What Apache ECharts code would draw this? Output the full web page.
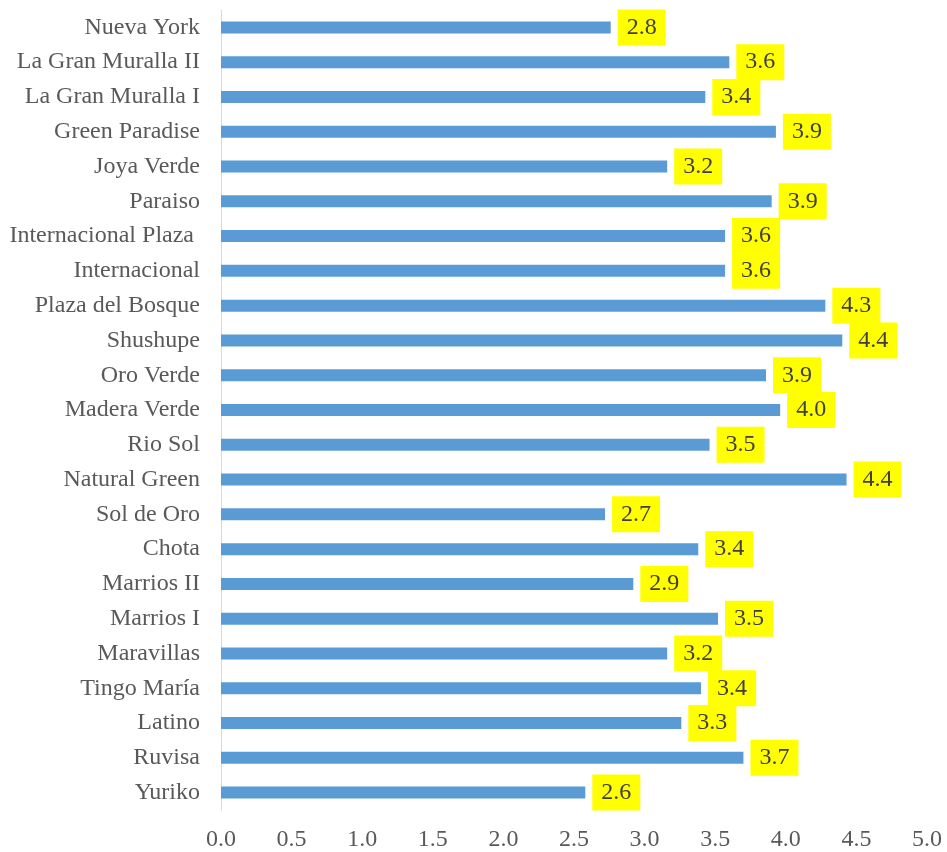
<!DOCTYPE html>
<html>
<head>
<meta charset="utf-8">
<script src="https://cdn.jsdelivr.net/npm/echarts@6/dist/echarts.min.js"></script>
<style>html,body{margin:0;padding:0;background:#fff;}#c{width:947px;height:852px;}</style>
</head>
<body>
<div id="c"></div>
<script>
const categories = ["Nueva York","La Gran Muralla II","La Gran Muralla I","Green Paradise","Joya Verde","Paraiso","Internacional Plaza ","Internacional","Plaza del Bosque","Shushupe","Oro Verde","Madera Verde","Rio Sol","Natural Green","Sol de Oro","Chota","Marrios II","Marrios I","Maravillas","Tingo María","Latino","Ruvisa","Yuriko"];
const values = [2.76,3.60,3.43,3.93,3.16,3.90,3.57,3.57,4.28,4.40,3.86,3.96,3.46,4.43,2.72,3.38,2.92,3.52,3.16,3.40,3.26,3.70,2.58];
const xTicks = ["0.0","0.5","1.0","1.5","2.0","2.5","3.0","3.5","4.0","4.5","5.0"];

const font = "'Liberation Serif','Times New Roman',serif";
const chart = echarts.init(document.getElementById('c'));
chart.setOption({
  animation: false,
  grid: {left: 221, right: 20, top: 10, bottom: 41, containLabel: false},
  xAxis: {
    type: 'value', min: 0, max: 5, interval: 0.5,
    axisLine: {show: false}, axisTick: {show: false}, splitLine: {show: false},
    axisLabel: {
      formatter: v => xTicks[Math.round(v / 0.5)],
      color: '#595959', fontFamily: font, fontSize: 24, margin: 18
    }
  },
  yAxis: {
    type: 'category', data: categories, inverse: true,
    axisLine: {show: true, lineStyle: {color: '#D9D9D9', width: 1}},
    axisTick: {show: false},
    axisLabel: {color: '#595959', fontFamily: font, fontSize: 24, margin: 21}
  },
  series: [{
    type: 'bar', data: values, barWidth: 12,
    itemStyle: {color: '#5B9BD5'},
    label: {
      show: true, position: 'right', distance: 7,
      formatter: p => p.value.toFixed(1),
      backgroundColor: '#FFFF00', color: '#404040',
      fontFamily: font, fontSize: 24, lineHeight: 24,
      padding: [6, 9, 6, 9]
    }
  }]
});
</script>
</body>
</html>
